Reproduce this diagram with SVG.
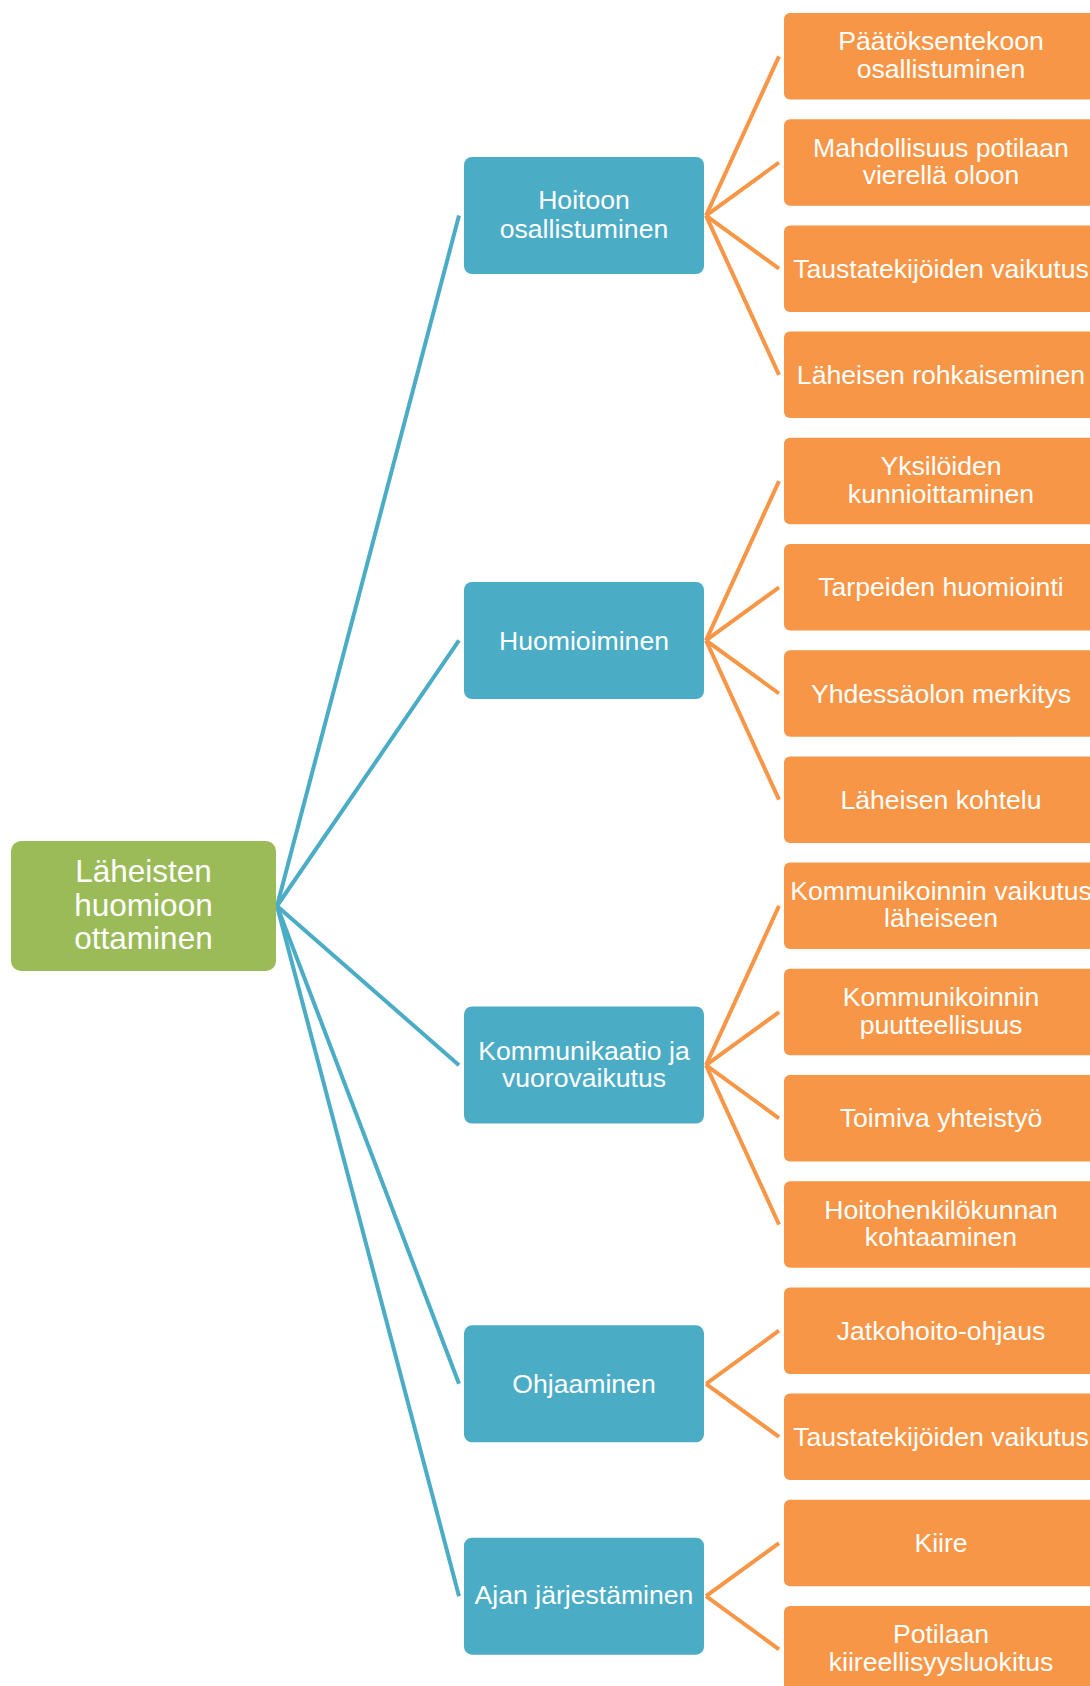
<svg xmlns="http://www.w3.org/2000/svg" width="1090" height="1686" viewBox="0 0 1090 1686">
<style>
.t{font-family:"Liberation Sans",Arial,sans-serif;fill:#fff;text-anchor:middle}
.g{fill:#9BBB59}
.b{fill:#4BACC6}
.o{fill:#F79646}
.lb{stroke:#4BACC6;stroke-width:4;fill:none}
.lo{stroke:#F79646;stroke-width:4;fill:none}
.f30{font-size:31.5px}
.f26{font-size:26.6px}
</style>
<rect width="1090" height="1686" fill="#fff"/>
<g id="connectors">
<g class="lb">
<line x1="277" y1="906" x2="459" y2="215.6"/>
<line x1="277" y1="906" x2="459" y2="640.4"/>
<line x1="277" y1="906" x2="459" y2="1065.2"/>
<line x1="277" y1="906" x2="459" y2="1383.8"/>
<line x1="277" y1="906" x2="459" y2="1596.2"/>
</g>
<g class="lo">
<line x1="706" y1="215.6" x2="779" y2="56.3"/>
<line x1="706" y1="215.6" x2="779" y2="162.5"/>
<line x1="706" y1="215.6" x2="779" y2="268.7"/>
<line x1="706" y1="215.6" x2="779" y2="374.9"/>
<line x1="706" y1="640.4" x2="779" y2="481.1"/>
<line x1="706" y1="640.4" x2="779" y2="587.3"/>
<line x1="706" y1="640.4" x2="779" y2="693.5"/>
<line x1="706" y1="640.4" x2="779" y2="799.7"/>
<line x1="706" y1="1065.2" x2="779" y2="905.9"/>
<line x1="706" y1="1065.2" x2="779" y2="1012.1"/>
<line x1="706" y1="1065.2" x2="779" y2="1118.3"/>
<line x1="706" y1="1065.2" x2="779" y2="1224.5"/>
<line x1="706" y1="1383.8" x2="779" y2="1330.7"/>
<line x1="706" y1="1383.8" x2="779" y2="1436.9"/>
<line x1="706" y1="1596.2" x2="779" y2="1543.1"/>
<line x1="706" y1="1596.2" x2="779" y2="1649.3"/>
</g>
</g>
<g id="root">
<rect class="g" x="11" y="841" width="265" height="130" rx="10"/>
<text class="t f30" x="143.5" y="882">Läheisten</text>
<text class="t f30" x="143.5" y="915.5">huomioon</text>
<text class="t f30" x="143.5" y="949">ottaminen</text>
</g>
<g id="b1"><rect class="b" x="464" y="157" width="240" height="117" rx="8"/>
<text class="t f26" x="584" y="209">Hoitoon</text><text class="t f26" x="584" y="237.5">osallistuminen</text></g>
<g id="b2"><rect class="b" x="464" y="582" width="240" height="117" rx="8"/>
<text class="t f26" x="584" y="649.5">Huomioiminen</text></g>
<g id="b3"><rect class="b" x="464" y="1006.5" width="240" height="117" rx="8"/>
<text class="t f26" x="584" y="1059.5">Kommunikaatio ja</text><text class="t f26" x="584" y="1087">vuorovaikutus</text></g>
<g id="b4"><rect class="b" x="464" y="1325.3" width="240" height="117" rx="8"/>
<text class="t f26" x="584" y="1393">Ohjaaminen</text></g>
<g id="b5"><rect class="b" x="464" y="1537.7" width="240" height="117" rx="8"/>
<text class="t f26" x="584" y="1604">Ajan järjestäminen</text></g>
<g id="o1"><rect class="o" x="784" y="13" width="330" height="86.5" rx="6"/>
<text class="t f26" x="941" y="50.3">Päätöksentekoon</text><text class="t f26" x="941" y="77.8">osallistuminen</text></g>
<g id="o2"><rect class="o" x="784" y="119.2" width="330" height="86.5" rx="6"/>
<text class="t f26" x="941" y="156.5">Mahdollisuus potilaan</text><text class="t f26" x="941" y="184">vierellä oloon</text></g>
<g id="o3"><rect class="o" x="784" y="225.4" width="330" height="86.5" rx="6"/>
<text class="t f26" x="941" y="277.7">Taustatekijöiden vaikutus</text></g>
<g id="o4"><rect class="o" x="784" y="331.6" width="330" height="86.5" rx="6"/>
<text class="t f26" x="941" y="383.9">Läheisen rohkaiseminen</text></g>
<g id="o5"><rect class="o" x="784" y="437.8" width="330" height="86.5" rx="6"/>
<text class="t f26" x="941" y="475.1">Yksilöiden</text><text class="t f26" x="941" y="502.6">kunnioittaminen</text></g>
<g id="o6"><rect class="o" x="784" y="544" width="330" height="86.5" rx="6"/>
<text class="t f26" x="941" y="596.3">Tarpeiden huomiointi</text></g>
<g id="o7"><rect class="o" x="784" y="650.2" width="330" height="86.5" rx="6"/>
<text class="t f26" x="941" y="702.5">Yhdessäolon merkitys</text></g>
<g id="o8"><rect class="o" x="784" y="756.4" width="330" height="86.5" rx="6"/>
<text class="t f26" x="941" y="808.7">Läheisen kohtelu</text></g>
<g id="o9"><rect class="o" x="784" y="862.6" width="330" height="86.5" rx="6"/>
<text class="t f26" x="941" y="899.9">Kommunikoinnin vaikutus</text><text class="t f26" x="941" y="927.4">läheiseen</text></g>
<g id="o10"><rect class="o" x="784" y="968.8" width="330" height="86.5" rx="6"/>
<text class="t f26" x="941" y="1006.1">Kommunikoinnin</text><text class="t f26" x="941" y="1033.6">puutteellisuus</text></g>
<g id="o11"><rect class="o" x="784" y="1075" width="330" height="86.5" rx="6"/>
<text class="t f26" x="941" y="1127.3">Toimiva yhteistyö</text></g>
<g id="o12"><rect class="o" x="784" y="1181.2" width="330" height="86.5" rx="6"/>
<text class="t f26" x="941" y="1218.5">Hoitohenkilökunnan</text><text class="t f26" x="941" y="1246">kohtaaminen</text></g>
<g id="o13"><rect class="o" x="784" y="1287.4" width="330" height="86.5" rx="6"/>
<text class="t f26" x="941" y="1339.7">Jatkohoito-ohjaus</text></g>
<g id="o14"><rect class="o" x="784" y="1393.6" width="330" height="86.5" rx="6"/>
<text class="t f26" x="941" y="1445.9">Taustatekijöiden vaikutus</text></g>
<g id="o15"><rect class="o" x="784" y="1499.8" width="330" height="86.5" rx="6"/>
<text class="t f26" x="941" y="1552.1">Kiire</text></g>
<g id="o16"><rect class="o" x="784" y="1606" width="330" height="86.5" rx="6"/>
<text class="t f26" x="941" y="1643.3">Potilaan</text><text class="t f26" x="941" y="1670.8">kiireellisyysluokitus</text></g>
</svg>
